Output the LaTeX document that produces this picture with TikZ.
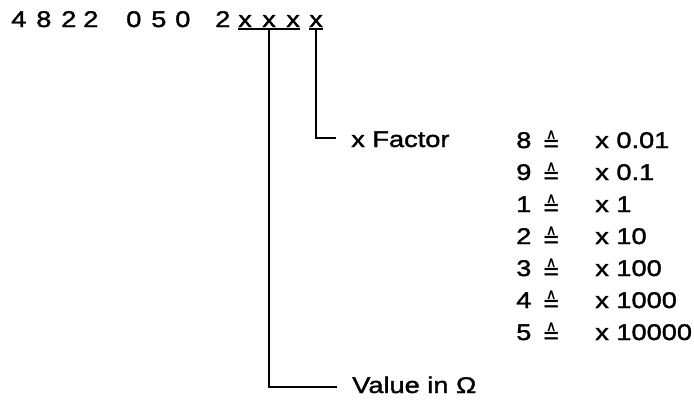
\documentclass[tikz,border=0pt]{standalone}
\usepackage{fontspec}
\setmainfont{Liberation Sans}[FakeStretch=1.2,FakeBold=1.6]
\newfontfamily\dejavu{DejaVu Sans}
\begin{document}
\begin{tikzpicture}[x=0.75pt,y=-0.75pt,
  txt/.style={anchor=base west,inner sep=0pt,font=\fontsize{17}{20}\selectfont},
  ln/.style={line width=1.5pt}]
\useasboundingbox (0,0) rectangle (694,404);
% top number
\foreach \c/\px [count=\k] in {4/11,8/36,2/61,2/83,0/126,5/151,0/175,2/215}{
  \node[txt] (n\k) at (\px,27) {\c};
}
\node[txt] (x1) at (238,27) {x};
\node[txt] (x2) at (262,27) {x};
\node[txt] (x3) at (286,27) {x};
\node[txt] (x4) at (309,27) {x};
% underlines
\draw[ln] ([yshift=-1.4pt]x1.south west) -- ([yshift=-1.4pt]x3.south east);
\draw[ln] ([yshift=-1.4pt]x4.south west) -- ([yshift=-1.4pt]x4.south east);
% labels
\node[txt] (fac) at (351,147) {x Factor};
\node[txt] (val) at (352,393) {Value in Ω};
\coordinate (fend) at (336,138);
\coordinate (vend) at (337,387);
% connectors
\draw[ln] ([yshift=-1.4pt]x2.south) |- (vend);
\draw[ln] ([yshift=-1.4pt]x4.south) |- (fend);
% table
\foreach \d/\v [count=\i from 0] in {8/0.01,9/0.1,1/1,2/10,3/100,4/1000,5/10000}{
  \node[txt] (d\i) at (516,{148+32*\i}) {\d};
  \node[txt] (e\i) at (542,{148+32*\i}) {\raisebox{-3.6pt}{\scalebox{0.8}[1]{\dejavu\fontsize{20}{22}\selectfont ≙}}};
  \node[txt] (v\i) at (595,{148+32*\i}) {x \v};
}
\end{tikzpicture}
\end{document}
